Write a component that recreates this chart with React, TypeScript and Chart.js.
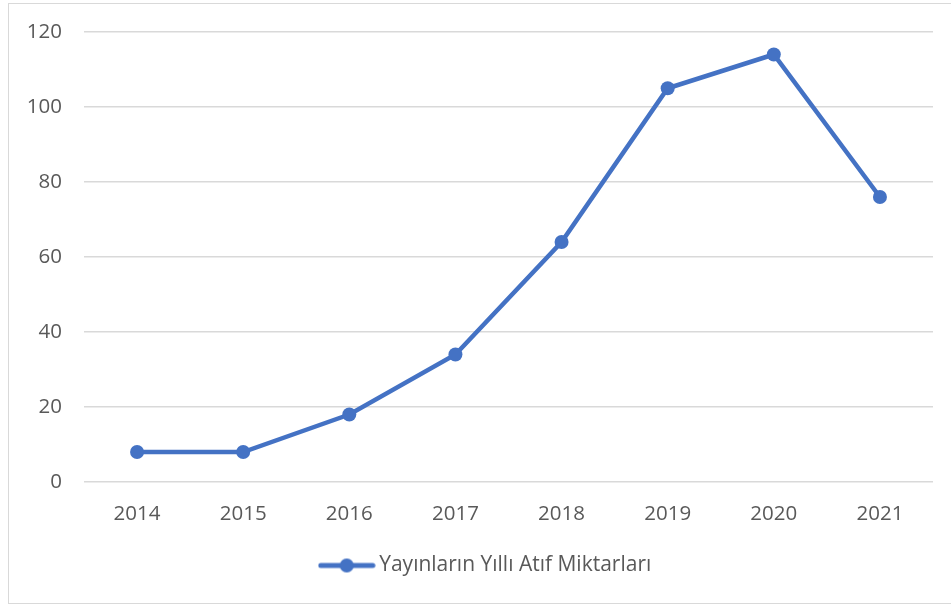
import React, { useEffect, useRef } from "react";
import { Chart, registerables } from "chart.js";

Chart.register(...registerables);

const years = ["2014", "2015", "2016", "2017", "2018", "2019", "2020", "2021"];
const citations = [8, 8, 18, 34, 64, 105, 114, 76];
const seriesLabel = "Yayınların Yıllı Atıf Miktarları";
const yMin = 0;
const yMax = 120;
const yStep = 20;

const BLUE = "#4472C4";
const TEXT = "#595959";
const GRID = "#D9D9D9";
const FONT = "'Open Sans', sans-serif";
const FONT_SIZE = 20.5;
const LEGEND_SIZE = 21;

export default function App() {
  const ref = useRef<HTMLCanvasElement | null>(null);

  useEffect(() => {
    if (!ref.current) return;
    const icon = document.createElement("canvas");
    icon.width = 58;
    icon.height = 18;
    const ictx = icon.getContext("2d")!;
    ictx.strokeStyle = BLUE;
    ictx.lineWidth = 5;
    ictx.lineCap = "round";
    ictx.beginPath();
    ictx.moveTo(3, 9);
    ictx.lineTo(55, 9);
    ictx.stroke();
    ictx.fillStyle = BLUE;
    ictx.beginPath();
    ictx.arc(29, 9, 7, 0, Math.PI * 2);
    ictx.fill();

    const chart = new Chart(ref.current, {
      type: "line",
      data: {
        labels: years,
        datasets: [
          {
            label: seriesLabel,
            data: citations,
            borderColor: BLUE,
            backgroundColor: BLUE,
            borderWidth: 4.5,
            pointRadius: 7,
            pointHoverRadius: 7,
            pointBackgroundColor: BLUE,
            pointBorderWidth: 0,
            tension: 0,
            yAxisID: "y",
          },
        ],
      },
      options: {
        animation: false,
        responsive: true,
        maintainAspectRatio: false,
        layout: { padding: { top: 28, left: 0, right: 0, bottom: 17 } },
        scales: {
          x: {
            offset: true,
            grid: { display: false, drawTicks: false },
            border: { display: false },
            ticks: {
              color: TEXT,
              font: { family: FONT, size: FONT_SIZE },
              padding: 20,
              maxRotation: 0,
            },
            afterFit: (s: any) => {
              s.height = 63;
            },
          },
          y: {
            min: yMin,
            max: yMax,
            grid: { color: GRID, lineWidth: 1.5, drawTicks: false },
            border: { display: false },
            ticks: {
              stepSize: yStep,
              color: TEXT,
              font: { family: FONT, size: FONT_SIZE },
              padding: 22,
            },
            afterFit: (s: any) => {
              s.width = 75;
              s.paddingTop = 10;
              s.paddingBottom = 10;
            },
          },
          y2: {
            position: "right",
            display: true,
            grid: { display: false, drawTicks: false },
            border: { display: false },
            ticks: { display: false },
            afterFit: (s: any) => {
              s.width = 34;
              s.paddingTop = 0;
              s.paddingBottom = 0;
            },
          },
        },
        plugins: {
          tooltip: { enabled: false },
          legend: {
            position: "bottom",
            labels: {
              color: TEXT,
              font: { family: FONT, size: LEGEND_SIZE },
              usePointStyle: true,
              pointStyleWidth: 44,
              generateLabels: (c: any) =>
                Chart.defaults.plugins.legend.labels
                  .generateLabels(c)
                  .map((l: any) => ({ ...l, pointStyle: icon })),
            },
          },
        },
      },
    });
    return () => chart.destroy();
  }, []);

  return (
    <div
      style={{
        position: "absolute",
        left: 0,
        top: 0,
        width: 951,
        height: 605,
        overflow: "hidden",
        background: "#fff",
      }}
    >
      <div
        style={{
          position: "absolute",
          left: 8,
          top: 3,
          width: 960,
          height: 601,
          boxSizing: "border-box",
          border: "1px solid #D9D9D9",
        }}
      >
        <div style={{ position: "relative", width: 958, height: 599 }}>
          <canvas ref={ref} />
        </div>
      </div>
    </div>
  );
}
